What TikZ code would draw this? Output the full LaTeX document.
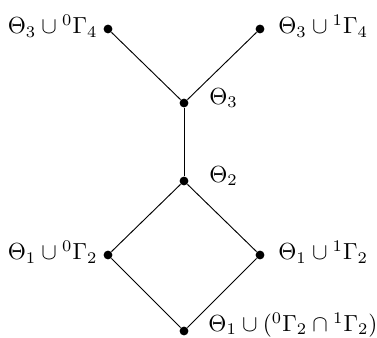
\documentclass[tikz,border=0pt]{standalone}
\usepackage{amsmath,amssymb}
\usepackage{tikz}
\usetikzlibrary{positioning}
\tikzset{
  vtx/.style={circle,fill=black,inner sep=0pt,minimum size=3.8pt},
  lbl/.style={inner sep=1pt},
  edge/.style={line width=0.4pt}
}

\begin{document}
\begin{tikzpicture}[x=0.43pt,y=-0.43pt]
  \useasboundingbox (0,0) rectangle (377,338);
  % vertices of the lattice
  \node[vtx] (topL) at (108,29) {};
  \node[vtx] (topR) at (260,29) {};
  \node[vtx] (thetaIII) at (184,103) {};
  \node[vtx] (thetaII) at (184,181) {};
  \node[vtx] (midL) at (108,255) {};
  \node[vtx] (midR) at (260,255) {};
  \node[vtx] (bot) at (184,331) {};
  % labels
  \node[lbl,left=1.2pt of topL,yshift=1.2pt] (topLlbl) {$\Theta_3 \cup {}^0\Gamma_4$};
  \node[lbl,right=4.6pt of topR,yshift=1.2pt] (topRlbl) {$\Theta_3 \cup {}^1\Gamma_4$};
  \node[lbl,right=7.6pt of thetaIII,yshift=2.2pt] (thetaIIIlbl) {$\Theta_3$};
  \node[lbl,right=7.6pt of thetaII,yshift=2.2pt] (thetaIIlbl) {$\Theta_2$};
  \node[lbl,left=1.2pt of midL,yshift=1.2pt] (midLlbl) {$\Theta_1 \cup {}^0\Gamma_2$};
  \node[lbl,right=4.6pt of midR,yshift=1.2pt] (midRlbl) {$\Theta_1 \cup {}^1\Gamma_2$};
  \node[lbl,right=7.2pt of bot,yshift=2.6pt] (botlbl) {$\Theta_1 \cup ({}^0\Gamma_2 \cap {}^1\Gamma_2)$};
  % edges
  \draw[edge] (topL) -- (thetaIII);
  \draw[edge] (topR) -- (thetaIII);
  \draw[edge] (thetaIII) -- (thetaII);
  \draw[edge] (thetaII) -- (midL);
  \draw[edge] (thetaII) -- (midR);
  \draw[edge] (midL) -- (bot);
  \draw[edge] (midR) -- (bot);
\end{tikzpicture}
\end{document}
